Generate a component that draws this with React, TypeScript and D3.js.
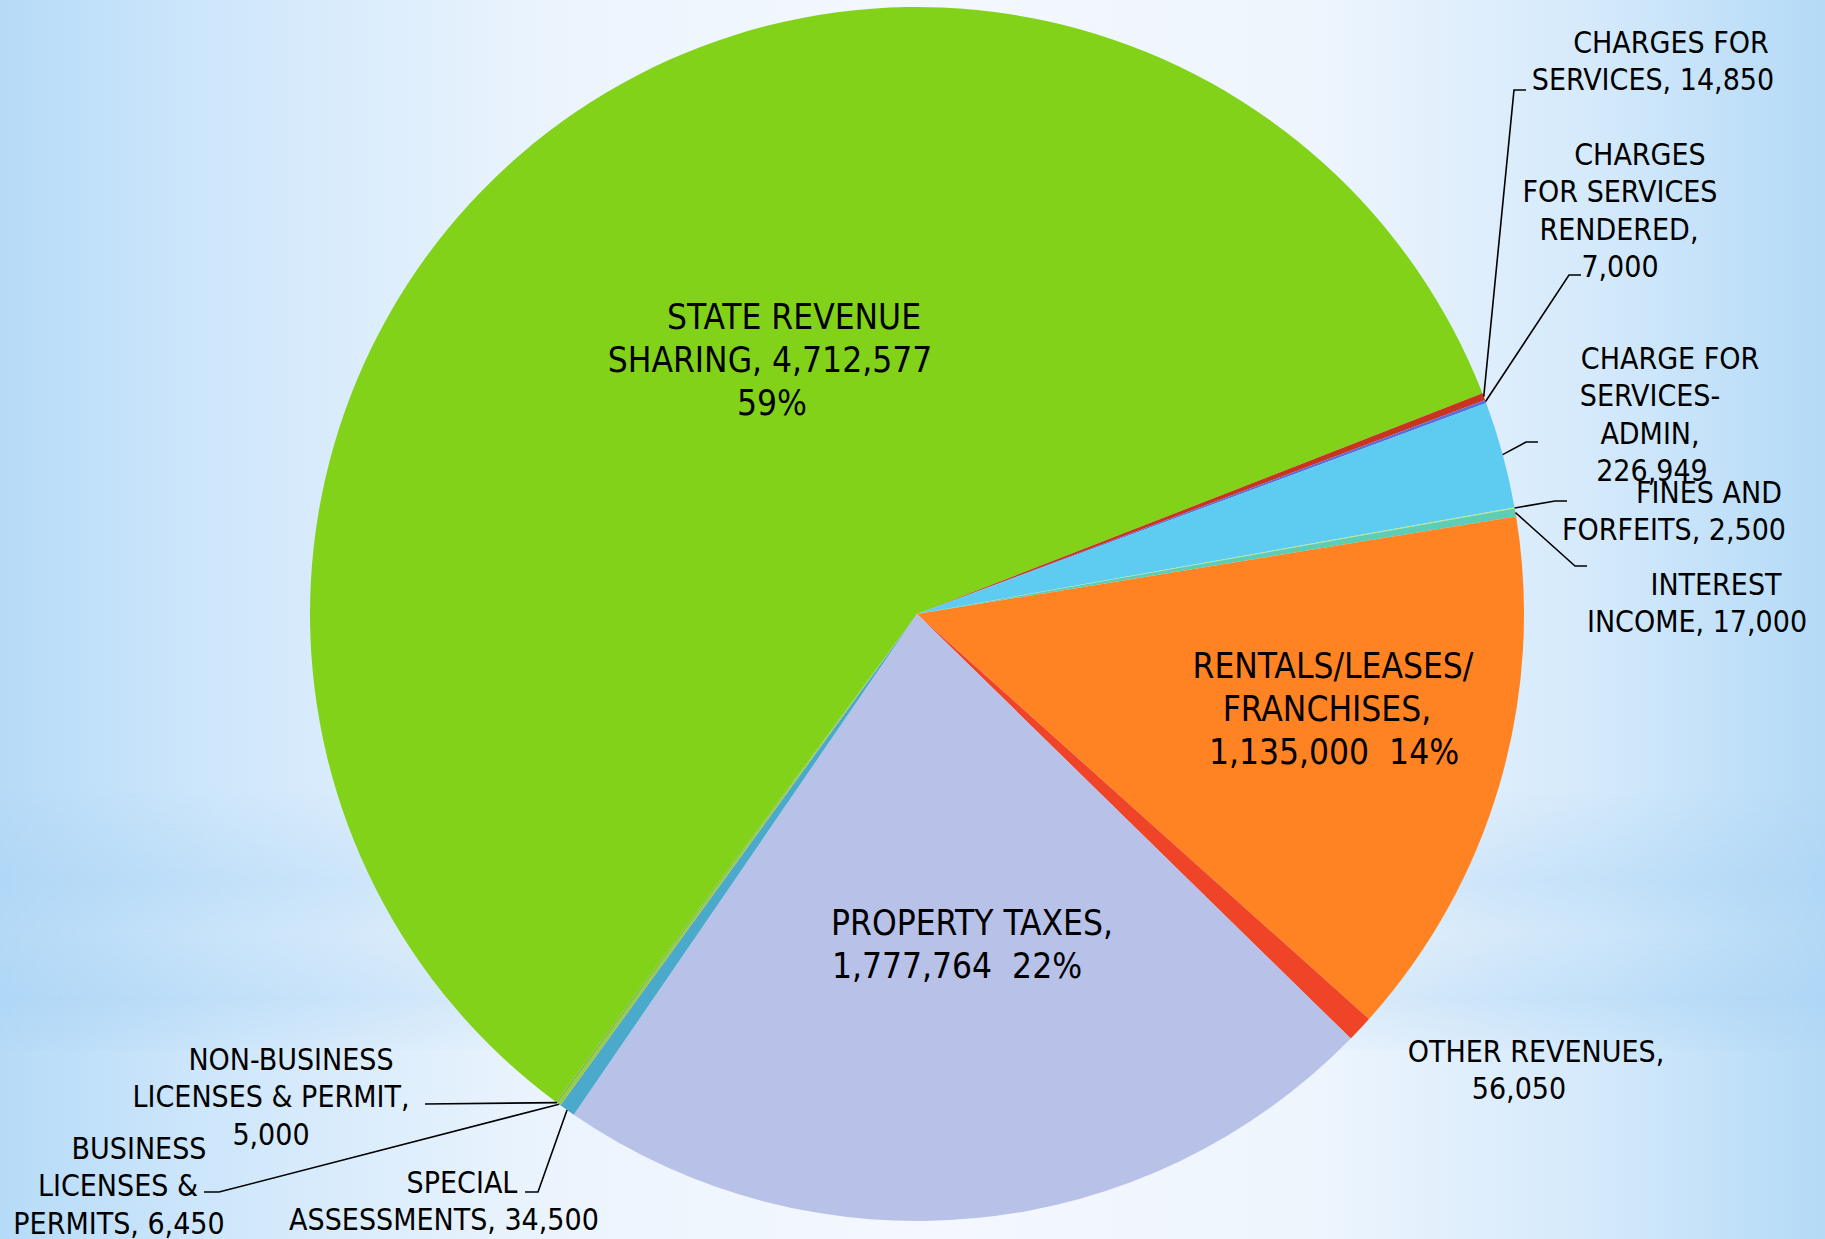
import React from "react";
import * as d3 from "d3";

const W = 1825;
const H = 1239;
const CX = 917;
const CY = 614;
const R = 607;
// angle (deg, clockwise from 12 o'clock) where the first slice starts
const START_DEG = -143.5;

const categories = [
  "STATE REVENUE SHARING",
  "CHARGES FOR SERVICES",
  "CHARGES FOR SERVICES RENDERED",
  "CHARGE FOR SERVICES-ADMIN",
  "FINES AND FORFEITS",
  "INTEREST INCOME",
  "RENTALS/LEASES/FRANCHISES",
  "OTHER REVENUES",
  "PROPERTY TAXES",
  "SPECIAL ASSESSMENTS",
  "BUSINESS LICENSES & PERMITS",
  "NON-BUSINESS LICENSES & PERMIT",
];
const values = [
  4712577, 14850, 7000, 226949, 2500, 17000, 1135000, 56050, 1777764, 34500,
  6450, 5000,
];
const colors = [
  "#83d21a",
  "#c8341e",
  "#5a6ed8",
  "#5ecbf1",
  "#b5e88a",
  "#5ecdb5",
  "#ff8322",
  "#f04428",
  "#b8c1e7",
  "#4baacb",
  "#9ccb3c",
  "#7dc044",
];

// label line templates: {v} = value, {p} = percent
const labelLines = [
  ["STATE REVENUE", "SHARING, {v}", "{p}"],
  ["CHARGES FOR", "SERVICES, {v}"],
  ["CHARGES", "FOR SERVICES", "RENDERED,", "{v}"],
  ["CHARGE FOR", "SERVICES-", "ADMIN,", "{v}"],
  ["FINES AND", "FORFEITS, {v}"],
  ["INTEREST", "INCOME, {v}"],
  ["RENTALS/LEASES/", "FRANCHISES,", "{v}  {p}"],
  ["OTHER REVENUES,", "{v}"],
  ["PROPERTY TAXES,", "{v}  {p}"],
  ["SPECIAL", "ASSESSMENTS, {v}"],
  ["BUSINESS", "LICENSES &", "PERMITS, {v}"],
  ["NON-BUSINESS", "LICENSES & PERMIT,", "{v}"],
];

// layout of each label: per-line centre x, first line y, inside or not, leader path
type Layout = {
  xs: number[];
  y: number;
  inside?: boolean;
  leader?: [number, number][];
};
const layouts: Layout[] = [
  { xs: [794, 770, 772], y: 316, inside: true },
  { xs: [1671, 1653], y: 42, leader: [[1514, 90], [1526, 90]] },
  { xs: [1640, 1620, 1619, 1620], y: 154, leader: [[1569, 275], [1581, 275]] },
  { xs: [1670, 1650, 1650, 1652], y: 358, leader: [[1526, 442], [1538, 442]] },
  { xs: [1709, 1674], y: 492, leader: [[1555, 501], [1567, 501]] },
  { xs: [1716, 1697], y: 584, leader: [[1575, 566], [1587, 566]] },
  { xs: [1333, 1327, 1334], y: 665, inside: true },
  { xs: [1536, 1519], y: 1051 },
  { xs: [972, 957], y: 922, inside: true },
  { xs: [462, 444], y: 1182, leader: [[538, 1192], [525, 1192]] },
  { xs: [139, 118, 119], y: 1148, leader: [[219, 1192], [204, 1192]] },
  { xs: [291, 271, 271], y: 1059, leader: [[425, 1104]] },
];

const fmt = d3.format(",");
const FONT = "'DejaVu Sans Condensed', 'DejaVu Sans', sans-serif";

export default function App() {
  const total = d3.sum(values);
  const rad = (d: number) => (d * Math.PI) / 180;

  const pie = d3
    .pie<number>()
    .sort(null)
    .value((d) => d)
    .startAngle(rad(START_DEG))
    .endAngle(rad(START_DEG) + Math.PI * 2);
  const arcs = pie(values);
  const arc = d3.arc<d3.PieArcDatum<number>>().innerRadius(0).outerRadius(R);

  const edgePoint = (a: d3.PieArcDatum<number>): [number, number] => {
    const m = (a.startAngle + a.endAngle) / 2;
    return [CX + R * Math.sin(m), CY - R * Math.cos(m)];
  };

  const line = d3.line();

  return (
    <svg
      width={W}
      height={H}
      style={{ position: "absolute", left: 0, top: 0 }}
      fontFamily={FONT}
    >
      <defs>
        <linearGradient id="bg" x1="0" x2="1" y1="0" y2="0">
          <stop offset="0" stopColor="#b6dbf8" />
          <stop offset="0.12" stopColor="#cfe7fb" />
          <stop offset="0.3" stopColor="#ebf4fd" />
          <stop offset="0.5" stopColor="#f4f8fe" />
          <stop offset="0.72" stopColor="#eef5fd" />
          <stop offset="0.88" stopColor="#d3e9fb" />
          <stop offset="1" stopColor="#b4daf7" />
        </linearGradient>
        <linearGradient id="band" x1="0" x2="0" y1="0" y2="1">
          <stop offset="0" stopColor="#a9d3f5" stopOpacity="0" />
          <stop offset="0.35" stopColor="#a9d3f5" stopOpacity="0.45" />
          <stop offset="0.55" stopColor="#a9d3f5" stopOpacity="0.2" />
          <stop offset="0.8" stopColor="#a9d3f5" stopOpacity="0.5" />
          <stop offset="1" stopColor="#a9d3f5" stopOpacity="0.1" />
        </linearGradient>
        <linearGradient id="bandMask" x1="0" x2="1" y1="0" y2="0">
          <stop offset="0" stopColor="#fff" stopOpacity="1" />
          <stop offset="0.35" stopColor="#fff" stopOpacity="0.3" />
          <stop offset="0.6" stopColor="#fff" stopOpacity="0.3" />
          <stop offset="1" stopColor="#fff" stopOpacity="1" />
        </linearGradient>
        <mask id="m">
          <rect width={W} height={H} fill="url(#bandMask)" />
        </mask>
      </defs>
      <rect width={W} height={H} fill="url(#bg)" />
      <rect
        y={790}
        width={W}
        height={260}
        fill="url(#band)"
        mask="url(#m)"
      />

      <g transform={`translate(${CX},${CY})`}>
        {arcs.map((a, i) => (
          <path key={i} d={arc(a) || ""} fill={colors[i]} />
        ))}
      </g>

      {arcs.map((a, i) => {
        const L = layouts[i];
        if (!L.leader) return null;
        const pts: [number, number][] = [edgePoint(a), ...L.leader];
        return (
          <path
            key={"l" + i}
            d={line(pts) || ""}
            fill="none"
            stroke="#000"
            strokeWidth={1.6}
          />
        );
      })}

      {labelLines.map((lines, i) => {
        const L = layouts[i];
        const fs = L.inside ? 35 : 30;
        const lh = L.inside ? 43 : 37.5;
        const pct = Math.round((values[i] / total) * 100) + "%";
        return (
          <g key={"t" + i}>
            {lines.map((t, j) => (
              <text
                key={j}
                x={L.xs[j]}
                y={L.y + j * lh}
                dy="0.36em"
                textAnchor="middle"
                fontSize={fs}
                fontStretch="condensed"
                fill="#000"
                style={{ whiteSpace: "pre" }}
              >
                {t.replace("{v}", fmt(values[i])).replace("{p}", pct)}
              </text>
            ))}
          </g>
        );
      })}
    </svg>
  );
}
